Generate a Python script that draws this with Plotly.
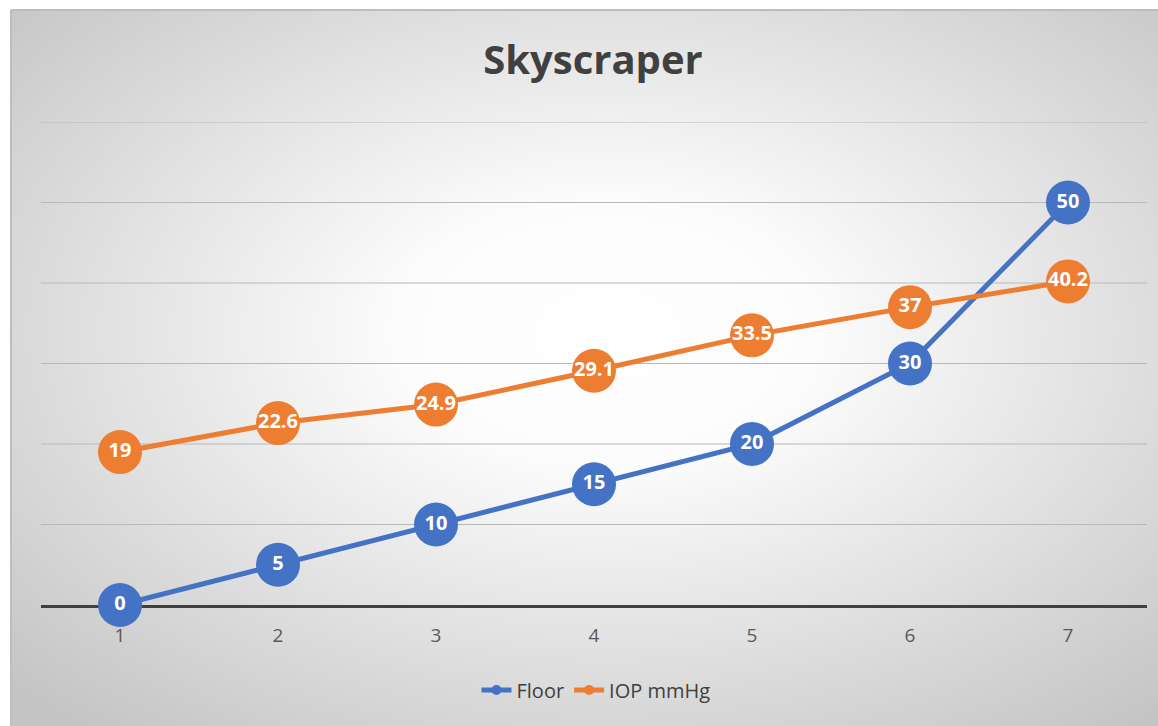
import base64
import plotly.graph_objects as go

# Data
categories = [1, 2, 3, 4, 5, 6, 7]
floor = [0, 5, 10, 15, 20, 30, 50]
iop_mmhg = [19, 22.6, 24.9, 29.1, 33.5, 37, 40.2]
series_names = ["Floor", "IOP mmHg"]
grid_values = [10, 20, 30, 40, 50, 60]

W, H = 1158, 726
ML, MR, MT, MB = 41, 11, 122, 121
PW, PH = W - ML - MR, H - MT - MB

BLUE = "#4472C4"
ORANGE = "#ED7D31"
FONT = "Open Sans"

# Radial gradient background for the chart area
svg = (
    '<svg xmlns="http://www.w3.org/2000/svg" width="1147" height="716" '
    'preserveAspectRatio="none" viewBox="0 0 1147 716">'
    '<defs><radialGradient id="g" cx="52%" cy="45%" r="72%">'
    '<stop offset="0" stop-color="#ffffff"/>'
    '<stop offset="0.25" stop-color="#fcfcfc"/>'
    '<stop offset="1" stop-color="#c4c4c4"/>'
    '</radialGradient></defs>'
    '<rect width="1147" height="716" fill="url(#g)"/></svg>'
)
bg_uri = "data:image/svg+xml;base64," + base64.b64encode(svg.encode()).decode()

# chart-area box in paper coordinates
x0_px, y0_px = 11, 10
px = lambda v: (v - ML) / PW
py = lambda v: (H - MB - v) / PH


def series(name, values, color):
    return go.Scatter(
        x=categories, y=values, name=name,
        mode="lines+markers+text",
        line=dict(color=color, width=5),
        marker=dict(color=color, size=44, line=dict(width=0)),
        text=[f"{v:g}" for v in values],
        textposition="middle center",
        textfont=dict(family=FONT, size=20, color="white", weight="bold"),
        cliponaxis=False,
        showlegend=False,
    )


def legend_entry(name, color):
    return go.Scatter(
        x=[None], y=[None], name=name, mode="lines+markers",
        line=dict(color=color, width=5),
        marker=dict(color=color, size=10),
        showlegend=True,
    )


fig = go.Figure([
    series(series_names[0], floor, BLUE),
    series(series_names[1], iop_mmhg, ORANGE),
    legend_entry(series_names[0], BLUE),
    legend_entry(series_names[1], ORANGE),
])

# horizontal gridlines (drawn as shapes so the top one at the range edge shows)
grid_shapes = [
    dict(type="line", xref="paper", yref="y", x0=0, x1=1, y0=v, y1=v,
         line=dict(color="#b8b8b8", width=1), layer="below")
    for v in grid_values
]

fig.update_layout(
    width=W, height=H,
    margin=dict(l=ML, r=MR, t=MT, b=MB),
    paper_bgcolor="white",
    plot_bgcolor="rgba(0,0,0,0)",
    title=dict(text="<b>Skyscraper</b>", x=593 / W, xanchor="center",
               y=1 - 60 / H, yanchor="middle",
               font=dict(family=FONT, size=40, color="#404040")),
    legend=dict(orientation="h", x=px(596), xanchor="center",
                y=py(690), yanchor="middle",
                font=dict(family=FONT, size=20, color="#404040"),
                bgcolor="rgba(0,0,0,0)"),
    images=[dict(source=bg_uri, xref="paper", yref="paper",
                 x=px(x0_px), y=py(y0_px), sizex=(W - x0_px) / PW,
                 sizey=(H - y0_px) / PH, sizing="stretch",
                 xanchor="left", yanchor="top", layer="below")],
    shapes=grid_shapes + [
        dict(type="line", xref="paper", yref="paper",
             x0=px(x0_px), x1=px(W), y0=py(y0_px), y1=py(y0_px),
             line=dict(color="#bdbdbd", width=2)),
        dict(type="line", xref="paper", yref="paper",
             x0=px(x0_px), x1=px(x0_px), y0=py(y0_px), y1=py(H),
             line=dict(color="#bdbdbd", width=2)),
    ],
)

fig.update_xaxes(
    range=[0.5, 7.5], tickmode="array", tickvals=categories,
    ticktext=[str(c) for c in categories],
    showgrid=False, zeroline=False,
    showline=True, linecolor="#404040", linewidth=3,
    layer="below traces",
    ticks="", ticklabelstandoff=11,
    tickfont=dict(family=FONT, size=19, color="#595959"),
)
fig.update_yaxes(
    range=[0, 60], showticklabels=False, showgrid=False,
    zeroline=False, showline=False,
)

fig.write_html("out.html")
